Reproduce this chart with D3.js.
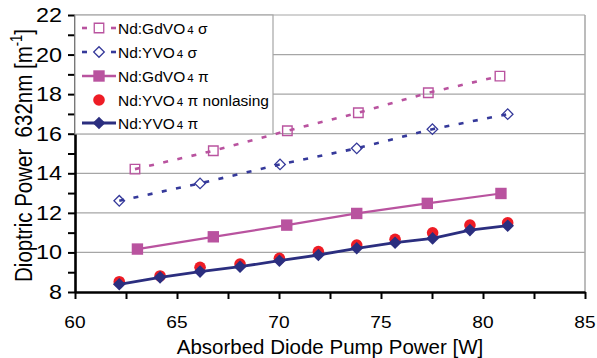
<!DOCTYPE html>
<html>
<head>
<meta charset="utf-8">
<script src="https://cdn.jsdelivr.net/npm/d3@7"></script>
<style>
  body { margin: 0; background: #fff; }
  text { font-family: "Liberation Sans", Arial, sans-serif; }
</style>
</head>
<body>
<div id="chart"></div>
<script>
// data
var gdSigmaX = [62.94, 66.78, 70.41, 73.89, 77.32, 80.83];
var gdSigmaY = [14.21, 15.14, 16.15, 17.06, 18.07, 18.91];

var yvSigmaX = [62.17, 66.13, 70.05, 73.81, 77.52, 81.21];
var yvSigmaY = [12.61, 13.49, 14.45, 15.26, 16.23, 16.99];

var gdPiX = [63.06, 66.78, 70.38, 73.81, 77.27, 80.88];
var gdPiY = [10.17, 10.79, 11.38, 11.97, 12.48, 12.98];

var yvPiX = [62.17, 64.17, 66.13, 68.09, 70.02, 71.93, 73.81, 75.69, 77.53, 79.36, 81.21];
var nonlasingY = [8.52, 8.81, 9.25, 9.41, 9.70, 10.04, 10.37, 10.66, 10.99, 11.38, 11.50];
var yvPiY = [8.39, 8.74, 9.03, 9.28, 9.58, 9.87, 10.21, 10.49, 10.71, 11.13, 11.35];

var xTicks = [60, 65, 70, 75, 80, 85];
var yTicks = [8, 10, 12, 14, 16, 18, 20, 22];

var pink = "#b9539f", blue = "#35399a", navy = "#2b2e7f", red = "#ee1c25";

var margin = {top: 15, right: 12, bottom: 66, left: 75};
var W = 597, H = 358;
var width = W - margin.left - margin.right;
var height = H - margin.top - margin.bottom;

var svg = d3.select("#chart").append("svg")
  .attr("width", W).attr("height", H);
var g = svg.append("g")
  .attr("transform", "translate(" + margin.left + "," + margin.top + ")");

var x = d3.scaleLinear().domain([60, 85]).range([0, width]);
var y = d3.scaleLinear().domain([8, 22]).range([height, 0]);

// grid
g.selectAll(".grid").data(yTicks.filter(d => d > 8))
  .enter().append("line")
  .attr("x1", 0).attr("x2", width)
  .attr("y1", d => y(d)).attr("y2", d => y(d))
  .style("stroke", "#a6a6a6").style("stroke-width", 1.2);
g.append("line")
  .attr("x1", width).attr("x2", width).attr("y1", 0).attr("y2", height)
  .style("stroke", "#a6a6a6").style("stroke-width", 1.5);

// axes (ticks only, labels drawn below)
var xAxis = g.append("g").attr("transform", "translate(0," + height + ")")
  .call(d3.axisBottom(x).tickValues(d3.range(60, 85.1, 2.5)).tickSize(7).tickSizeOuter(0).tickFormat(""));
var yAxis = g.append("g")
  .call(d3.axisLeft(y).tickValues(d3.range(8, 22.1, 1)).tickSize(7).tickSizeOuter(0).tickFormat(""));
[xAxis, yAxis].forEach(a => {
  a.select(".domain").style("stroke", "#000").style("stroke-width", 2.6);
  a.selectAll(".tick line").style("stroke", "#000").style("stroke-width", 2);
});

g.selectAll(".xl").data(xTicks).enter().append("text")
  .attr("transform", d => "translate(" + x(d) + "," + (height + 36) + ") scale(1.16,1)")
  .attr("text-anchor", "middle")
  .style("font-size", "16.5px")
  .text(d => d);

g.selectAll(".yl").data(yTicks).enter().append("text")
  .attr("transform", d => "translate(-13," + (y(d) + 7) + ") scale(1.2,1)")
  .attr("text-anchor", "end")
  .style("font-size", "19.5px")
  .text(d => d);

// axis titles
svg.append("text")
  .attr("x", margin.left + width / 2).attr("y", 354)
  .attr("text-anchor", "middle")
  .style("font-size", "20.5px")
  .text("Absorbed Diode Pump Power [W]");

var yt = svg.append("text")
  .attr("transform", "translate(32," + (margin.top + height / 2 + 2) + ") rotate(-90) scale(1,1.2)")
  .attr("text-anchor", "middle")
  .style("font-size", "20.5px");
yt.append("tspan").text("Dioptric Power\u00a0 632nm [m");
yt.append("tspan").attr("dy", -8).style("font-size", "13px").text("-1");
yt.append("tspan").attr("dy", 8).text("]");

// series
function pts(xs, ys) { return xs.map((d, i) => [d, ys[i]]); }
var line = d3.line().x(d => x(d[0])).y(d => y(d[1]));

var sq = d3.symbol().type(d3.symbolSquare);

function drawLine(data, color, w, dash) {
  g.append("path").datum(data).attr("d", line)
    .style("fill", "none").style("stroke", color).style("stroke-width", w)
    .style("stroke-dasharray", dash || null);
}
function drawMarks(data, path, rot, fill, stroke, sw) {
  g.selectAll(null).data(data).enter().append("path")
    .attr("d", path)
    .attr("transform", d => "translate(" + x(d[0]) + "," + y(d[1]) + ") rotate(" + rot + ")")
    .style("fill", fill).style("stroke", stroke).style("stroke-width", sw);
}

var gdSigma = pts(gdSigmaX, gdSigmaY);
var yvSigma = pts(yvSigmaX, yvSigmaY);
var gdPi = pts(gdPiX, gdPiY);
var nonlasing = pts(yvPiX, nonlasingY);
var yvPi = pts(yvPiX, yvPiY);

drawLine(gdSigma, pink, 2.6, "5,9.5");
drawMarks(gdSigma, sq.size(90)(), 0, "none", pink, 1.4);
drawLine(yvSigma, blue, 2.6, "5,9.5");
drawMarks(yvSigma, sq.size(56)(), 45, "none", blue, 1.3);
drawLine(gdPi, pink, 2.2);
drawMarks(gdPi, sq.size(130)(), 0, pink, "none", 0);
g.selectAll(null).data(nonlasing).enter().append("circle")
  .attr("cx", d => x(d[0])).attr("cy", d => y(d[1])).attr("r", 5.8)
  .style("fill", red);
drawLine(yvPi, navy, 2.8);
drawMarks(yvPi, sq.size(80)(), 45, navy, "none", 0);

// legend
var lg = svg.append("g").attr("transform", "translate(" + margin.left + "," + margin.top + ")");
lg.append("rect").attr("x", 0).attr("y", 0).attr("width", 198).attr("height", 119)
  .style("fill", "#fff").style("stroke", "#a6a6a6").style("stroke-width", 1.2);

var legendNames = ["Nd:GdVO", "Nd:YVO", "Nd:GdVO", "Nd:YVO", "Nd:YVO"];
var legendTails = [" \u03c3", " \u03c3", " \u03c0", " \u03c0 nonlasing", " \u03c0"];
var rowY = [13, 37, 61, 85, 108];

function legendSymbol(i, yy) {
  var s = lg.append("g").attr("transform", "translate(24," + yy + ")");
  if (i < 2) {
    var c = i === 0 ? pink : blue;
    s.append("line").attr("x1", -17).attr("x2", -12).style("stroke", c).style("stroke-width", 2.6);
    s.append("line").attr("x1", 12).attr("x2", 17).style("stroke", c).style("stroke-width", 2.6);
    s.append("path").attr("d", i === 0 ? sq.size(90)() : sq.size(56)())
      .attr("transform", i === 0 ? null : "rotate(45)")
      .style("fill", "none").style("stroke", c).style("stroke-width", 1.3);
  } else if (i === 2) {
    s.append("line").attr("x1", -17).attr("x2", 17).style("stroke", pink).style("stroke-width", 2.6);
    s.append("path").attr("d", sq.size(130)()).style("fill", pink);
  } else if (i === 3) {
    s.append("circle").attr("r", 5.8).style("fill", red);
  } else {
    s.append("line").attr("x1", -17).attr("x2", 17).style("stroke", navy).style("stroke-width", 2.8);
    s.append("path").attr("d", sq.size(80)()).attr("transform", "rotate(45)").style("fill", navy);
  }
}

legendNames.forEach((name, i) => {
  legendSymbol(i, rowY[i]);
  var t = lg.append("text").attr("x", 43).attr("y", rowY[i] + 5.5).style("font-size", "15.5px");
  t.append("tspan").text(name);
  t.append("tspan").attr("dx", 2).style("font-size", "11.5px").text("4");
  t.append("tspan").text(legendTails[i]);
});
</script>
</body>
</html>
